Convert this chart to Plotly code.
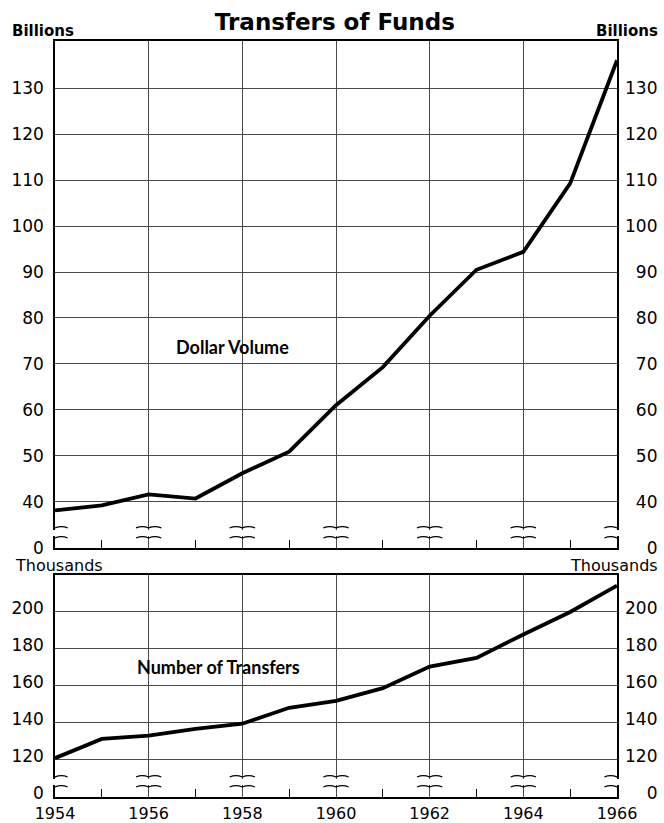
import plotly.graph_objects as go

# ----------------------------
# Data
# ----------------------------

years = list(range(1954, 1967))

# Dollar volume of transfers, billions of dollars
dollar_volume = [38.1, 39.2, 41.6, 40.7, 46.2, 50.9, 61.0, 69.3, 80.5, 90.5, 94.4, 109.3, 136.1]

# Number of transfers, thousands
number_of_transfers = [121.0, 131.4, 133.2, 136.8, 139.6, 148.2, 152.0, 158.8, 170.5, 175.2, 187.8, 200.0, 214.2]

year_ticks = [1954, 1956, 1958, 1960, 1962, 1964, 1966]
odd_years = [1955, 1957, 1959, 1961, 1963, 1965]

volume_ticks = [30, 40, 50, 60, 70, 80, 90, 100, 110, 120, 130]
volume_labels = ["0", "40", "50", "60", "70", "80", "90", "100", "110", "120", "130"]

transfer_ticks = [100, 120, 140, 160, 180, 200]
transfer_labels = ["0", "120", "140", "160", "180", "200"]

# ----------------------------
# Style
# ----------------------------

INK = "black"
GRID = "#4a4a4a"
FONT = "DejaVu Sans"
NARROW = "Lato, Roboto, sans-serif"
FIG_SPACE = "\u2007"


def pad_right(labels):
    # right-hand labels are right-aligned in the original
    return [FIG_SPACE * (3 - len(t)) + t for t in labels]


def x_axis(anchor, labels):
    return dict(
        domain=[0, 1],
        anchor=anchor,
        range=[1954, 1966],
        automargin=False,
        tickmode="array",
        tickvals=year_ticks,
        ticktext=[str(y) for y in year_ticks],
        showticklabels=labels,
        ticks="",
        ticklabelstandoff=1,
        tickfont=dict(family=FONT, size=16, color=INK),
        showgrid=True,
        gridcolor=GRID,
        gridwidth=1,
        showline=True,
        linecolor=INK,
        linewidth=2,
        mirror=True,
        zeroline=False,
        minor=dict(
            tickmode="array",
            tickvals=odd_years,
            ticks="inside",
            ticklen=8,
            tickcolor=INK,
            tickwidth=1.2,
            showgrid=False,
        ),
    )


def y_axis(domain, rng, ticks, labels, anchor, shift=0):
    return dict(
        domain=domain,
        anchor=anchor,
        range=rng,
        automargin=False,
        tickmode="array",
        tickvals=ticks,
        ticktext=labels,
        ticks="",
        ticklabelstandoff=6,
        ticklabelshift=shift,
        tickfont=dict(family=FONT, size=17, color=INK),
        showgrid=True,
        gridcolor=GRID,
        gridwidth=1,
        showline=True,
        linecolor=INK,
        linewidth=1.5,
        mirror=True,
        zeroline=False,
    )


def y_axis_right(overlay, rng, ticks, labels, anchor, shift=0):
    return dict(
        overlaying=overlay,
        side="right",
        anchor=anchor,
        range=rng,
        automargin=False,
        tickmode="array",
        tickvals=ticks,
        ticktext=pad_right(labels),
        ticks="",
        ticklabelstandoff=7,
        ticklabelshift=shift,
        tickfont=dict(family=FONT, size=17, color=INK),
        showgrid=False,
        showline=False,
        zeroline=False,
    )


def break_shapes(xref, yref, low, high, bump):
    """Axis-break marks: white gap plus two wavy strokes at each gridline."""
    shapes = [
        dict(
            type="rect", xref=f"{xref} domain", yref=yref,
            x0=-0.02, x1=1.02, y0=low + (high - low) * 0.2, y1=high - (high - low) * 0.2,
            fillcolor="white", line=dict(width=0), layer="above",
        )
    ]
    w = 0.27
    for yr in year_ticks:
        for lvl in (low, high):
            path = (
                f"M {yr - w},{lvl} Q {yr - w / 2},{lvl + bump} {yr},{lvl} "
                f"Q {yr + w / 2},{lvl + bump} {yr + w},{lvl}"
            )
            shapes.append(dict(
                type="path", xref=xref, yref=yref, path=path,
                line=dict(color=INK, width=1.2), layer="above",
            ))
    return shapes


# ----------------------------
# Figure
# ----------------------------

fig = go.Figure()

fig.add_trace(go.Scatter(
    x=years, y=dollar_volume, xaxis="x2", yaxis="y2", mode="lines",
    line=dict(color=INK, width=3.8), showlegend=False,
))
fig.add_trace(go.Scatter(
    x=years, y=dollar_volume, xaxis="x2", yaxis="y3", mode="lines",
    line=dict(color="rgba(0,0,0,0)", width=0), showlegend=False, hoverinfo="skip",
))
fig.add_trace(go.Scatter(
    x=years, y=number_of_transfers, xaxis="x", yaxis="y", mode="lines",
    line=dict(color=INK, width=3.8), showlegend=False,
))
fig.add_trace(go.Scatter(
    x=years, y=number_of_transfers, xaxis="x", yaxis="y4", mode="lines",
    line=dict(color="rgba(0,0,0,0)", width=0), showlegend=False, hoverinfo="skip",
))

top_range = [30, 140.3]
bottom_range = [100, 220]

fig.update_layout(
    width=664,
    height=823,
    margin=dict(l=55, r=47, t=41, b=26),
    paper_bgcolor="white",
    plot_bgcolor="white",
    showlegend=False,
    title=dict(
        text="<b>Transfers of Funds</b>",
        x=0.498, xref="paper", xanchor="center",
        y=1 - 22 / 823, yref="container", yanchor="middle",
        font=dict(family=FONT, size=23, color=INK),
        automargin=False,
    ),
    xaxis=x_axis("y", True),
    xaxis2=x_axis("y2", False),
    yaxis=y_axis([0, 0.2937], bottom_range, transfer_ticks, transfer_labels, "x", shift=-4),
    yaxis2=y_axis([0.3298, 1], top_range, volume_ticks, volume_labels, "x2"),
    yaxis3=y_axis_right("y2", top_range, volume_ticks, volume_labels, "x2"),
    yaxis4=y_axis_right("y", bottom_range, transfer_ticks, transfer_labels, "x", shift=-4),
    shapes=break_shapes("x2", "y2", 32.1, 34.3, 0.6) + break_shapes("x", "y", 105.4, 110.8, 1.5),
)

unit_font = dict(family=FONT, size=15, color=INK)
fig.add_annotation(text="<b>Billions</b>", xref="paper", yref="paper", x=-0.08, y=1.0126,
                   xanchor="left", yanchor="middle", showarrow=False, font=unit_font)
fig.add_annotation(text="<b>Billions</b>", xref="paper", yref="paper", x=1.0765, y=1.0126,
                   xanchor="right", yanchor="middle", showarrow=False, font=unit_font)
fig.add_annotation(text="Thousands", xref="paper", yref="paper", x=-0.075, y=0.3056,
                   xanchor="left", yanchor="middle", showarrow=False,
                   font=dict(family=FONT, size=16, color=INK))
fig.add_annotation(text="Thousands", xref="paper", yref="paper", x=1.0765, y=0.3056,
                   xanchor="right", yanchor="middle", showarrow=False,
                   font=dict(family=FONT, size=16, color=INK))

series_font = dict(family=NARROW, size=18, color=INK)
fig.add_annotation(text="<b>Dollar Volume</b>", xref="x2", yref="y2", x=1957.8, y=73.7,
                   showarrow=False, font=series_font)
fig.add_annotation(text="<b>Number of Transfers</b>", xref="x", yref="y", x=1957.5, y=170,
                   showarrow=False, font=series_font)

# the page's default body margin would push the chart down and clip it on the right
fig.write_html(
    "out.html",
    config={"displayModeBar": False},
    post_script="document.body.style.margin='0';document.body.style.overflow='hidden';",
)
